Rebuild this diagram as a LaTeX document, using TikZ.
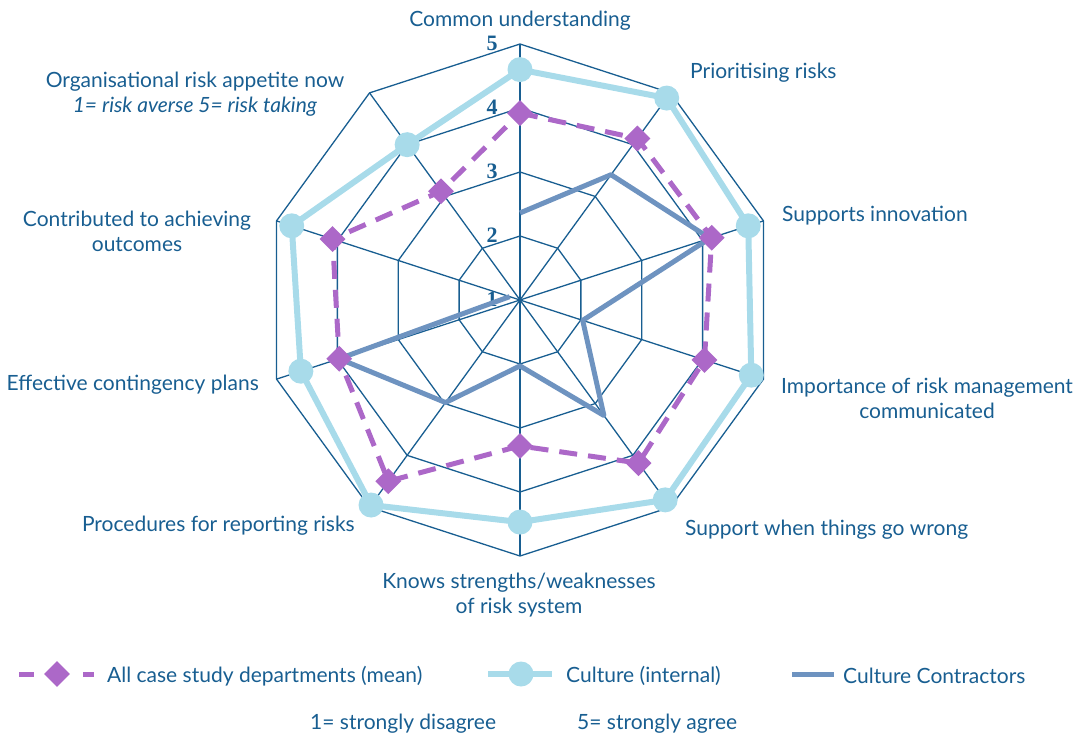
\documentclass[tikz,border=0pt]{standalone}
\usepackage{fontspec}
\setmainfont{Lato}
\newfontfamily\numfont{Liberation Serif}
\usepackage{tikz}
\usetikzlibrary{shapes.geometric}

\definecolor{gridblue}{RGB}{24,94,145}
\definecolor{meanpurple}{RGB}{172,104,200}
\definecolor{internalblue}{RGB}{168,219,234}
\definecolor{contractblue}{RGB}{110,147,192}

\tikzset{
    gridline/.style={gridblue, line width=1.3pt},
    axislabel/.style={text=gridblue, font=\fontsize{21}{25}\selectfont, align=center, inner sep=0pt, yshift=-3pt},
    scalelabel/.style={text=gridblue, font=\numfont\bfseries\fontsize{22}{22}\selectfont, inner sep=0pt},
    meanline/.style={meanpurple, line width=5pt, dash pattern=on 18pt off 11pt},
    meanmark/.style={diamond, fill=meanpurple, inner sep=0pt, minimum size=26pt},
    internalline/.style={internalblue, line width=6pt, line join=round},
    internalmark/.style={circle, fill=internalblue, inner sep=0pt, minimum size=25pt},
    contractline/.style={contractblue, line width=5pt, line join=round},
}

\begin{document}
\begin{tikzpicture}[x=1pt, y=1pt]
    \useasboundingbox (0,0) rectangle (1079,-737);

    \begin{scope}[shift={(520,-300)}]
        % rings and spokes
        \foreach \v in {2,...,5}
            \draw [gridline] (90:{64*(\v-1)}) \foreach \k in {1,...,9} {-- (90-36*\k:{64*(\v-1)})} -- cycle;
        \foreach \k in {0,...,9}
            \draw [gridline] (0,0) -- (90-36*\k:256);
        \foreach \v in {1,...,5}
            \node [scalelabel] (scale\v) at (-28,{64*(\v-1)+1}) {\v};

        % data
        \foreach \v [count=\k from 0] in {3.92,4.12,4.15,4.03,4.15,3.28,4.5,3.97,4.08,3.1}
            \coordinate (mean\k) at (90-36*\k:{64*(\v-1)});
        \foreach \v [count=\k from 0] in {4.6,4.9,4.75,4.8,4.86,4.47,4.96,4.6,4.75,4.0}
            \coordinate (int\k) at (90-36*\k:{64*(\v-1)});
        \foreach \v [count=\k from 0] in {2.36,3.42,4.12,2.03,3.23,2.03,2.98,3.97,1.17}
            \coordinate (con\k) at (90-36*\k:{64*(\v-1)});

        \draw [internalline] (int0) \foreach \k in {1,...,9} {-- (int\k)} -- cycle;
        \foreach \k in {0,...,9}
            \node [internalmark] (intdot\k) at (int\k) {};
        \draw [contractline] (con0) \foreach \k in {1,...,8} {-- (con\k)};
        \draw [meanline] (mean0) \foreach \k in {1,...,9} {-- (mean\k)} -- cycle;
        \foreach \k in {0,...,9}
            \node [meanmark] (meandot\k) at (mean\k) {};
    \end{scope}

    % axis names
    \node [axislabel] (common) at (520,-18) {Common understanding};
    \node [axislabel, anchor=west] (prior) at (690,-70) {Prioritising risks};
    \node [axislabel, anchor=west] (innov) at (782,-213) {Supports innovation};
    \node [axislabel, anchor=west] (import) at (781,-395) {Importance of risk management\\communicated};
    \node [axislabel, anchor=west] (wrong) at (685,-527) {Support when things go wrong};
    \node [axislabel] (knows) at (519,-592) {Knows strengths/weaknesses\\of risk system};
    \node [axislabel, anchor=east] (proced) at (355,-523) {Procedures for reporting risks};
    \node [axislabel, anchor=east] (conting) at (259,-382) {Effective contingency plans};
    \node [axislabel] (contrib) at (137,-228) {Contributed to achieving\\outcomes};
    \node [axislabel] (appetite) at (195,-91) {Organisational risk appetite now\\\textit{1= risk averse 5= risk taking}};

    % legend
    \coordinate (lma) at (19,-674);
    \coordinate (lmb) at (34,-674);
    \coordinate (lmc) at (83,-674);
    \coordinate (lmd) at (94,-674);
    \draw [meanpurple, line width=5pt] (lma) -- (lmb) (lmc) -- (lmd);
    \node [meanmark] (legmean) at (57,-674) {};
    \node [axislabel, anchor=west] (legmeantext) at (107,-673) {All case study departments (mean)};

    \coordinate (lia) at (488,-674);
    \coordinate (lib) at (552,-674);
    \draw [internalline] (lia) -- (lib);
    \node [internalmark] (legint) at (521,-674) {};
    \node [axislabel, anchor=west] (leginttext) at (566,-673) {Culture (internal)};

    \coordinate (lca) at (792,-674);
    \coordinate (lcb) at (834,-674);
    \draw [contractline] (lca) -- (lcb);
    \node [axislabel, anchor=west] (legcontext) at (843,-673) {Culture Contractors};

    \node [axislabel, anchor=west] (disagree) at (310,-721) {1= strongly disagree};
    \node [axislabel, anchor=west] (agree) at (577,-721) {5= strongly agree};
\end{tikzpicture}
\end{document}
